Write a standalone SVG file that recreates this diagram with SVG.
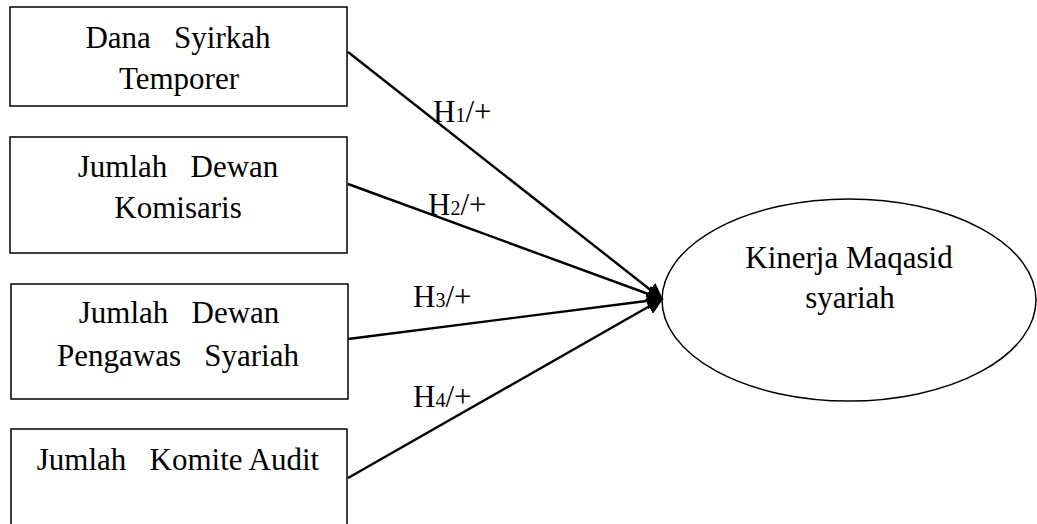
<svg xmlns="http://www.w3.org/2000/svg" width="1037" height="524" viewBox="0 0 1037 524">
<style>
.box{fill:#fff;stroke:#000;stroke-width:1.5}
.t{font-family:"Liberation Serif","Times New Roman",serif;font-size:31px;fill:#000;white-space:pre}
.c{text-anchor:middle}
.edge{stroke:#000;stroke-width:2.4;fill:none;marker-end:url(#ah)}
.sub{font-size:20px}
</style>
<defs>
<marker id="ah" viewBox="0 0 10 10" refX="9" refY="5" markerWidth="7" markerHeight="7" orient="auto" markerUnits="strokeWidth">
<path d="M0,0 L10,5 L0,10 z" fill="#000"/>
</marker>
</defs>
<rect width="1037" height="524" fill="#fff"/>
<g id="n1"><rect class="box" x="10" y="7" width="337" height="99"/>
<text class="t c" x="178" y="48" xml:space="preserve">Dana   Syirkah</text>
<text class="t c" x="179" y="89">Temporer</text></g>
<g id="n2"><rect class="box" x="10" y="137" width="337" height="116"/>
<text class="t c" x="178" y="177" xml:space="preserve">Jumlah   Dewan</text>
<text class="t c" x="178" y="218">Komisaris</text></g>
<g id="n3"><rect class="box" x="11" y="284" width="337" height="115"/>
<text class="t c" x="179" y="323" xml:space="preserve">Jumlah   Dewan</text>
<text class="t c" x="178" y="366" xml:space="preserve">Pengawas   Syariah</text></g>
<g id="n4"><rect class="box" x="11" y="429" width="336" height="110"/>
<text class="t c" x="178" y="470" xml:space="preserve">Jumlah   Komite Audit</text></g>
<g id="n5"><ellipse class="box" cx="849" cy="300" rx="187" ry="101"/>
<text class="t c" x="849" y="268">Kinerja Maqasid</text>
<text class="t c" x="850" y="308">syariah</text></g>
<g id="connectors">
<line class="edge" x1="348" y1="52" x2="662" y2="299"/>
<line class="edge" x1="348" y1="184" x2="662" y2="299"/>
<line class="edge" x1="348" y1="339" x2="662" y2="299"/>
<line class="edge" x1="348" y1="478" x2="662" y2="299"/>
<text class="t" x="433" y="122">H<tspan class="sub">1</tspan>/+</text>
<text class="t" x="428" y="215">H<tspan class="sub">2</tspan>/+</text>
<text class="t" x="413" y="307">H<tspan class="sub">3</tspan>/+</text>
<text class="t" x="413" y="407">H<tspan class="sub">4</tspan>/+</text>
</g>
</svg>
